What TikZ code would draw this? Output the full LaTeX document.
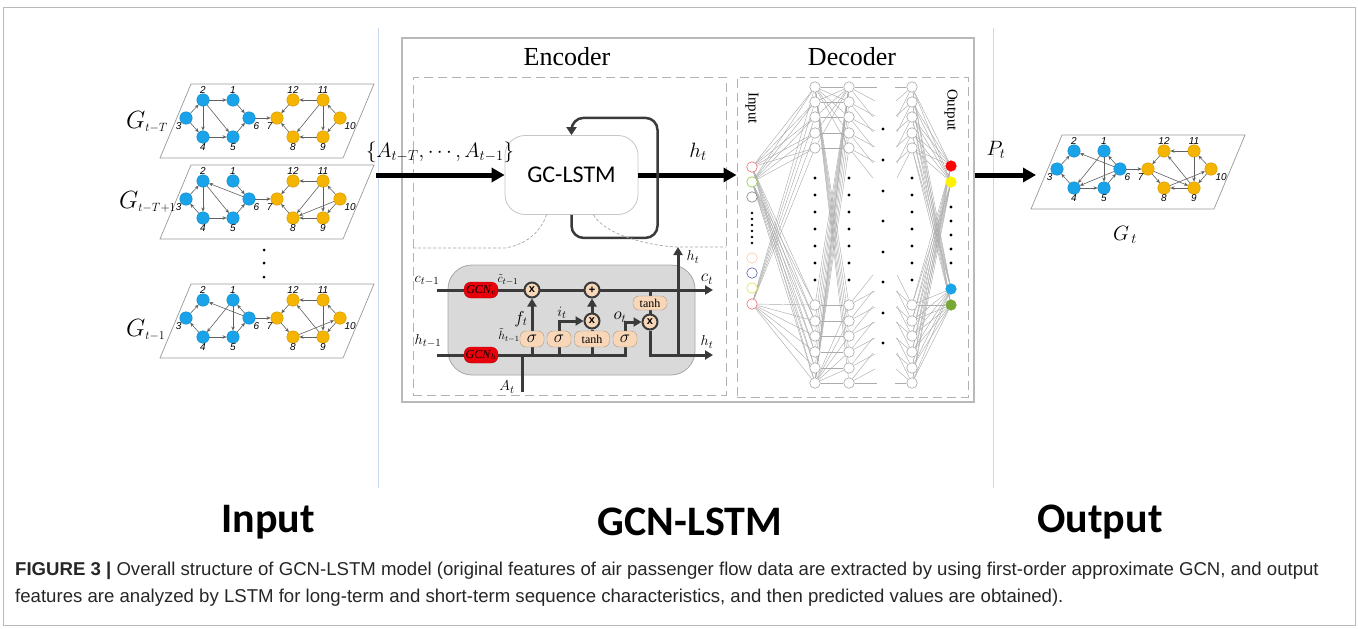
\documentclass[tikz,border=0pt]{standalone}
\usepackage{fontspec}
\setmainfont{Liberation Serif}
\setsansfont{Liberation Sans}
\newfontfamily\calib{Carlito}
\usepackage{tikz}
\usetikzlibrary{arrows.meta,positioning,calc,backgrounds}
\definecolor{AirBlue}{HTML}{1AA3E8}
\definecolor{AirGold}{HTML}{F5B400}
\definecolor{WireGray}{HTML}{3A3A3A}
\definecolor{CellGray}{HTML}{D9D9D9}
\definecolor{Peach}{HTML}{F8D7B9}
\definecolor{GcnRed}{HTML}{E8000B}
\definecolor{RuleBlue}{HTML}{C9D8EA}
\definecolor{InRed}{HTML}{F06A6A}
\definecolor{InGreen}{HTML}{8CC63F}
\definecolor{InPeach}{HTML}{F9C9A8}
\definecolor{InViolet}{HTML}{5A62B0}
\definecolor{InYellow}{HTML}{E4E44A}
\tikzset{
  % graph snapshots
  plane/.style={draw=gray!80,line width=0.7},
  apt/.style={circle,minimum size=12.5,inner sep=0pt,fill=#1,draw=#1!85!black,line width=0.4},
  num/.style={font=\sffamily\itshape\fontsize{10}{10}\selectfont,inner sep=0.5,label distance=-1},
  flow/.style={-{Stealth[length=4,width=3.5]},draw=gray!75!black,line width=0.6},
  glbl/.style={font=\fontsize{24}{24}\selectfont,inner sep=0,anchor=west},
  % boxes
  frame/.style={draw=gray!55,line width=1.3,inner sep=0},
  dashbox/.style={draw=gray!60,line width=1,dash pattern=on 9pt off 5pt,inner sep=0},
  block/.style={rounded corners=20,draw=gray!45,line width=0.8,fill=white,
                minimum width=133,minimum height=79,font=\calib\fontsize{24}{24}\selectfont},
  head/.style={font=\fontsize{26}{30}\selectfont},
  bigarr/.style={line width=5,-{Triangle[length=13,width=14]}},
  fb/.style={draw=WireGray,line width=2.5,rounded corners=12,-{Triangle[length=8,width=10]}},
  zoomln/.style={draw=gray!70,line width=0.7,dash pattern=on 3pt off 2pt},
  % LSTM cell
  cell/.style={rounded corners=24,fill=CellGray,draw=gray!70,line width=0.8,
               minimum width=247,minimum height=110},
  wire/.style={draw=WireGray,line width=3},
  wirearr/.style={wire,-{Triangle[length=8,width=9]}},
  gcn/.style={rounded corners=7,fill=GcnRed,draw=GcnRed!80!black,minimum width=34,
              minimum height=16,inner sep=0,font=\fontsize{12}{12}\selectfont,text=black},
  op/.style={circle,fill=Peach,draw=WireGray,line width=2,minimum size=15,inner sep=0,
             font=\sffamily\bfseries\fontsize{11}{11}\selectfont},
  gate/.style={rounded corners=6,fill=Peach,draw=Peach!70!black,line width=0.4,
               minimum width=24,minimum height=16,inner sep=1,font=\fontsize{12}{12}\selectfont},
  sig/.style={gate,font=\fontsize{16}{16}\selectfont},
  lbl/.style={font=\fontsize{15}{15}\selectfont,inner sep=0},
  mlbl/.style={font=\fontsize{20}{20}\selectfont,inner sep=0},
  % decoder net
  unit/.style={circle,draw=gray!70,fill=white,line width=0.6,minimum size=10.5,inner sep=0},
  syn/.style={draw=gray!65,line width=0.45},
  side/.style={font=\fontsize{15}{15}\selectfont,rotate=-90},
  title/.style={font=\calib\bfseries\fontsize{42}{46}\selectfont},
  caption/.style={anchor=west,font=\sffamily\fontsize{18.6}{22}\selectfont,text=black!85,inner sep=0}
}
% one airport network snapshot: #1 name prefix, #2 top-left corner of its plane
\newcommand{\flightgraph}[2]{%
  \begin{scope}[shift={#2}]
    \draw[plane] (0,0) -- (183,0) -- (152,74) -- (-31,74) -- cycle;
    \foreach \id/\px/\py/\col/\ang in {
        1/42/16/AirBlue/90, 2/12/16/AirBlue/90, 3/-5/34/AirBlue/225,
        4/12/53/AirBlue/270, 5/42/53/AirBlue/270, 6/58/34/AirBlue/315,
        7/86/34/AirGold/225, 8/102/53/AirGold/270, 9/132/53/AirGold/270,
        10/149/34/AirGold/315, 11/132/16/AirGold/90, 12/102/16/AirGold/90}
      \node[apt=\col,label={[num]\ang:\id}] (#1\id) at (\px,\py) {};
  \end{scope}}

\begin{document}
\begin{tikzpicture}[x=1pt,y=-1pt]
\useasboundingbox (0,0) rectangle (1358,629);
\draw[gray!55,line width=1] (3,7) rectangle (1355,625);

% column rules
\draw[RuleBlue,line width=1] (378,28) -- (378,488);
\draw[RuleBlue,line width=1] (993,28) -- (993,488);

% input snapshots
\flightgraph{gA}{(191,84)}
\flightgraph{gB}{(191,165)}
\flightgraph{gC}{(191,284)}
\foreach \a/\b in {3/2,2/1,1/6,2/4,2/5,3/4,4/5,5/6,6/7,11/12,12/7,8/7,9/8,11/8,11/9,10/11,10/9}
  \draw[flow] (gA\a) -- (gA\b);
\foreach \a/\b in {3/2,4/3,6/2,1/6,2/4,2/5,4/5,5/6,6/7,11/12,12/7,8/7,11/8,10/8,9/8,11/9,10/11,10/9}
  \draw[flow] (gB\a) -- (gB\b);
\foreach \a/\b in {3/2,4/3,6/2,6/1,1/4,1/5,4/5,5/6,6/7,11/12,12/7,7/8,9/8,9/12,8/10,10/11,11/9,10/9}
  \draw[flow] (gC\a) -- (gC\b);
\foreach \y in {250,263,277}
  \fill (264,\y) circle (1.5);
\node[glbl] (tA) at (126,122) {$G_{\scriptscriptstyle t-T}$};
\node[glbl] (tB) at (119,202) {$G_{\scriptscriptstyle t-T+1}$};
\node[glbl] (tC) at (126,330) {$G_{\scriptscriptstyle t-1}$};

% encoder / decoder frames
\node[frame,minimum width=572,minimum height=364] (model) at (688,220) {};
\node[head] (enchead) at (567,57) {Encoder};
\node[head] (dechead) at (852,57) {Decoder};
\node[dashbox,minimum width=313,minimum height=318] (enc) at (569.5,236) {};
\node[dashbox,minimum width=231,minimum height=320] (dec) at (852.5,237) {};

% GC-LSTM block
\node[block] (lstm) at (571.5,175) {GC-LSTM};
\coordinate (inStart) at (376,175);
\draw[bigarr] (inStart) -- (lstm.west);
\node[mlbl] (seqlbl) at (440,152) {$\{A_{t-T},\cdots,A_{t-1}\}$};
\draw[bigarr] (lstm.east) -- (dec.west |- lstm.east);
\node[mlbl] (htlbl) at (698,152) {$h_t$};
\draw[fb] (lstm.south) -- ++(0,23) -- ++(86,0) -- ++(0,-120) -- ++(-86,0) -- (lstm.north);
\draw[zoomln] (413,248) -- (505,248) .. controls (530,244) and (542,228) .. ([xshift=-25pt]lstm.south);
\draw[zoomln] ([xshift=22pt]lstm.south) .. controls (605,235) and (650,246) .. (677,247) -- (726,247);

% cell internals
\begin{scope}[on background layer]
  \node[cell] (cell) at (571.5,320) {};
\end{scope}
\coordinate (cin) at (437,290);
\coordinate (hin) at (437,355);
\coordinate (cout) at (713,290);
\coordinate (hout) at (713,355);
\coordinate (hup) at (678,247);
\coordinate (ain) at (522,392);
\node[gcn] (gcnc) at (481,290) {\textit{GCN}$_c$};
\node[gcn] (gcnh) at (481,355) {\textit{GCN}$_h$};
\node[op] (fx) at (532,290) {x};
\node[op] (plus) at (592,290) {+};
\node[op] (ix) at (592,321) {x};
\node[op] (ox) at (650,322) {x};
\node[gate,minimum width=34,minimum height=14] (ctanh) at (650,303) {tanh};
\node[sig] (sf) at (532,339) {$\sigma$};
\node[sig] (si) at (559,339) {$\sigma$};
\node[gate,minimum width=35] (gt) at (592,339) {tanh};
\node[sig] (so) at (625,339) {$\sigma$};
\begin{scope}[on background layer]
  \draw[wirearr] (cin) -- (cout);
  \draw[wirearr] (hin) -- (so |- hin) -- (so |- ox) -- (ox);
  \draw[wirearr] (sf |- hin) -- (fx);
  \draw[wirearr] (si |- hin) -- (si |- ix) -- (ix);
  \draw[wire] (gt |- hin) -- (ix);
  \draw[wirearr] (ix) -- (plus);
  \draw[wire] (ctanh |- cin) -- (ox);
  \draw[wirearr] (ox) |- (hout);
  \draw[wirearr] (hout -| hup) -- (hup);
  \draw[wire] (ain) -- (ain |- hin);
\end{scope}
\node[lbl] at (427,281) {$c_{t-1}$};
\node[lbl] at (428,341) {$h_{t-1}$};
\node[lbl,font=\fontsize{13}{13}\selectfont] at (508,280) {$\tilde{c}_{t-1}$};
\node[lbl,font=\fontsize{11.5}{11.5}\selectfont] at (509,335) {$\tilde{h}_{t-1}$};
\node[lbl,font=\fontsize{18}{18}\selectfont] at (521,319) {$f_t$};
\node[lbl] at (562,313) {$i_t$};
\node[lbl,font=\fontsize{17}{17}\selectfont] at (620,317) {$o_t$};
\node[lbl,font=\fontsize{18}{18}\selectfont] at (707,279) {$c_t$};
\node[lbl] at (707,342) {$h_t$};
\node[lbl] at (693,257) {$h_t$};
\node[lbl] at (507,387) {$A_t$};

% decoder network
\foreach \y/\col [count=\k] in {167/InRed,182/InGreen,197/gray,258/InPeach,273/InViolet,288/InYellow,304/InRed}
  \node[unit,draw=\col] (x\k) at (752,\y) {};
\foreach \y [count=\k] in {87,102,117,133,148,305,321,336,352,368,383} {
  \node[unit] (a\k) at (815,\y) {};
  \node[unit] (b\k) at (849,\y) {};
  \node[unit] (c\k) at (912,\y) {};
}
\foreach \y/\col [count=\k] in {166/red,182/yellow,289/AirBlue,305/InGreen!85!black}
  \node[unit,fill=\col,draw=\col] (o\k) at (951,\y) {};
\begin{scope}[on background layer]
  \foreach \i in {1,2,7}
    \foreach \j in {1,...,11}
      \draw[syn] (x\i) -- (a\j);
  \foreach \i in {1,...,5} {
    \draw[syn] (a\i) -- (b\i);
    \draw[syn] (b\i) -- ++(26,14);
    \draw[syn] (b\i) -- ++(24,30);
    \draw[syn] (c\i) -- ++(-16,14);
    \draw[syn] (c\i) -- ++(-15,30);
  }
  \foreach \i in {6,...,11} {
    \draw[syn] (a\i) -- (b\i);
    \draw[syn] (b\i) -- ++(26,-14);
    \draw[syn] (b\i) -- ++(24,-30);
    \draw[syn] (c\i) -- ++(-16,-14);
    \draw[syn] (c\i) -- ++(-15,-30);
  }
  \foreach \j in {2,...,11}
    \draw[syn] (a1) -- (b\j);
  \foreach \j in {1,...,10}
    \draw[syn] (a11) -- (b\j);
  \foreach \j in {1,...,11}
    \draw[syn] (a\j) -- (b1);
  \draw[syn] (b1) -- ++(28,0);
  \draw[syn] (b11) -- ++(28,0);
  \draw[syn] (c1) -- ++(-17,0);
  \draw[syn] (c11) -- ++(-17,0);
  \foreach \i in {1,...,11}
    \foreach \j in {1,...,4}
      \draw[syn] (c\i) -- (o\j);
\end{scope}
\foreach \x in {815,849,912}
  \foreach \y in {178,195,212,229,246,263,280}
    \fill (\x,\y) circle (1.6);
\foreach \y in {129,160,191,221,252,282,313,343}
  \fill (883,\y) circle (1.6);
\foreach \y in {213,219,225,231,237,243}
  \fill (752,\y) circle (1.4);
\foreach \y in {207,221,235,249,263}
  \fill (951,\y) circle (1.6);
\node[side] (netin) at (752,108) {Input};
\node[side] (netout) at (951,110) {Output};

% prediction
\coordinate (pEnd) at (1036,175);
\draw[bigarr] (model.east |- inStart) -- (pEnd);
\node[mlbl] (ptlbl) at (996,150) {$P_t$};
\flightgraph{gP}{(1062,135)}
\foreach \a/\b in {3/2,4/3,6/2,6/1,1/4,1/5,4/5,6/4,5/6,6/7,11/12,12/7,7/8,7/9,9/12,8/10,10/11,11/9,10/9,9/8}
  \draw[flow] (gP\a) -- (gP\b);
\node[glbl,anchor=center,font=\fontsize{22}{22}\selectfont] (tP) at (1125,235) {$G_{\,t}$};

% section titles
\node[title] (ttlin) at (268,522) {Input};
\node[title] (ttlmid) at (690,522) {GCN-LSTM};
\node[title] (ttlout) at (1100,522) {Output};

% caption
\node[caption] (cap1) at (15,571) {\textbf{FIGURE 3 |} Overall structure of GCN-LSTM model (original features of air passenger flow data are extracted by using first-order approximate GCN, and output};
\node[caption] (cap2) at (15,598) {features are analyzed by LSTM for long-term and short-term sequence characteristics, and then predicted values are obtained).};
\end{tikzpicture}
\end{document}
